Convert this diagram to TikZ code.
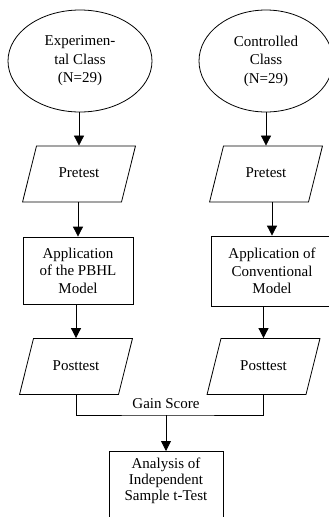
\documentclass[tikz,border=0pt]{standalone}
\usepackage{fontspec}
\setmainfont{Liberation Serif}
\usetikzlibrary{shapes.geometric,arrows.meta}
\tikzstyle{classnode}=[draw,ellipse,line width=0.8pt,minimum height=102pt,inner sep=0pt,align=center,font=\fontsize{15}{18.5}\selectfont]
\tikzstyle{testnode}=[draw,trapezium,trapezium left angle=76,trapezium right angle=104,line width=0.8pt,text width=48pt,align=center,text height=10pt,text depth=3pt,inner xsep=18.5pt,inner ysep=21.5pt,font=\fontsize{15}{18}\selectfont]
\tikzstyle{stepbox}=[draw,rectangle,line width=0.8pt,inner sep=3pt,align=center,font=\fontsize{15}{17.5}\selectfont]
\tikzstyle{flowline}=[line width=0.8pt,-{Triangle[width=10pt,length=10pt]}]

\begin{document}
\begin{tikzpicture}[x=1pt,y=-1pt]
    \useasboundingbox (0,0) rectangle (329,517);
    \node[classnode,minimum width=144pt] (ec) at (80,61) {Experimen-\\tal Class\\(N=29)};
    \node[classnode,minimum width=134pt] (cc) at (266,61) {Controlled\\Class\\(N=29)};
    \node[testnode] (pre1) at (79,174) {Pretest};
    \node[testnode] (pre2) at (266,174) {Pretest};
    \node[stepbox,minimum width=110pt,minimum height=67pt] (app1) at (78,270.5) {Application\\of the PBHL\\Model};
    \node[stepbox,minimum width=122pt,minimum height=70pt] (app2) at (272,271) {Application of\\Conventional\\Model};
    \node[testnode] (post1) at (76,366.5) {Posttest};
    \node[testnode] (post2) at (263.5,366.5) {Posttest};
    \node[stepbox,minimum width=114pt,anchor=north,inner ysep=7pt,text depth=40pt,font=\fontsize{15}{16}\selectfont] (ana) at (166,451) {Analysis of\\Independent\\Sample t-Test};
    \coordinate (gain) at (166,415);
    \node[font=\fontsize{15}{17.5}\selectfont] (gainlbl) at (166,404) {Gain Score};

    \foreach \from/\to in {ec/pre1,pre1/app1,app1/post1,cc/pre2,pre2/app2,app2/post2}
    \draw[flowline] (\to.north |- \from.south) -- (\to.north);
    \draw[line width=0.8pt] (post1.south) |- (gain) -| (post2.south);
    \draw[flowline] (gain) -- (ana.north);
\end{tikzpicture}
\end{document}
